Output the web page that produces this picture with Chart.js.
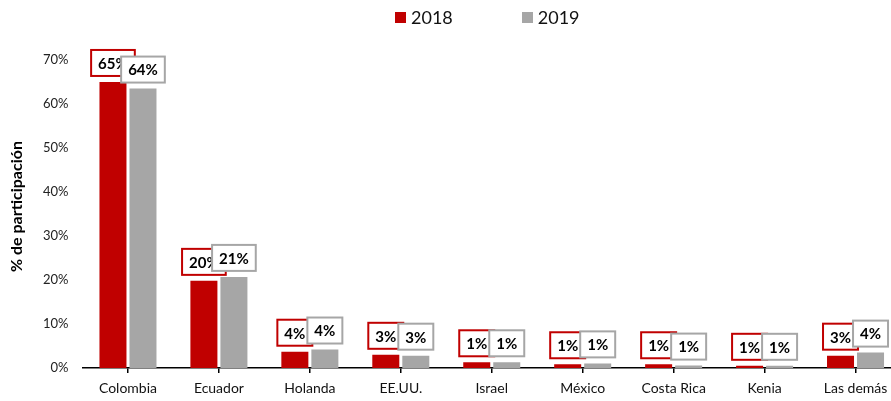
<!DOCTYPE html>
<html>
<head>
<meta charset="utf-8">
<script src="https://cdn.jsdelivr.net/npm/chart.js@4"></script>
<style>
  html, body { margin: 0; padding: 0; background: #fff; overflow: hidden; }
  #wrap { position: relative; width: 901px; height: 401px; }
  #legend { position: absolute; top: 6px; left: 395px; display: flex; font-family: Lato, sans-serif; font-size: 18px; color: #111; }
  #legend .item { display: flex; align-items: center; margin-right: 69px; }
  #legend .sw { width: 11px; height: 11px; margin-right: 5px; }
</style>
</head>
<body>
<div id="wrap">
  <div id="legend"></div>
  <canvas id="chart" width="901" height="401"></canvas>
</div>
<script>
// ──────────────── 数据 ────────────────
const countries = ['Colombia', 'Ecuador', 'Holanda', 'EE.UU.', 'Israel', 'México', 'Costa Rica', 'Kenia', 'Las demás'];
const share2018 = [65.0, 19.8, 3.7, 3.0, 1.3, 0.85, 0.85, 0.5, 2.8];
const share2019 = [63.5, 20.7, 4.2, 2.8, 1.3, 1.05, 0.55, 0.5, 3.5];
const yTicks = [0, 10, 20, 30, 40, 50, 60, 70];

const RED = '#C00000', GRAY = '#A6A6A6';

// ──────────────── 图例 (HTML) ────────────────
const series = [{ label: '2018', color: RED }, { label: '2019', color: GRAY }];
document.getElementById('legend').innerHTML = series
  .map(s => `<div class="item"><span class="sw" style="background:${s.color}"></span>${s.label}</div>`)
  .join('');

// ──────────────── 数值标签框 ────────────────
const boxLabels = {
  id: 'boxLabels',
  afterDatasetsDraw(chart) {
    const ctx = chart.ctx;
    ctx.save();
    ctx.font = 'bold 15px Lato, sans-serif';
    ctx.textAlign = 'center';
    ctx.textBaseline = 'middle';
    chart.data.datasets.forEach((ds, di) => {
      chart.getDatasetMeta(di).data.forEach((bar, i) => {
        const txt = Math.round(ds.data[i]) + '%';
        const w = ctx.measureText(txt).width + 14, h = 26;
        const x = bar.x - w / 2, y = bar.y - 6 - h;
        ctx.fillStyle = '#fff';
        ctx.fillRect(x, y, w, h);
        ctx.lineWidth = 2;
        ctx.strokeStyle = ds.backgroundColor;
        ctx.strokeRect(x, y, w, h);
        ctx.fillStyle = '#000';
        ctx.fillText(txt, bar.x, y + h / 2 + 1);
      });
    });
    ctx.restore();
  }
};

// ──────────────── 图表 ────────────────
new Chart(document.getElementById('chart'), {
  type: 'bar',
  data: {
    labels: countries,
    datasets: [
      { label: '2018', data: share2018, backgroundColor: RED },
      { label: '2019', data: share2019, backgroundColor: GRAY },
    ]
  },
  options: {
    responsive: false,
    animation: false,
    layout: { padding: { top: 45, left: 0, right: 0, bottom: 0 } },
    datasets: { bar: { categoryPercentage: 0.66, barPercentage: 0.9 } },
    plugins: { legend: { display: false }, tooltip: { enabled: false } },
    scales: {
      x: {
        afterFit: s => { s.height = 33; },
        grid: { display: true, drawOnChartArea: false, drawTicks: true, tickLength: 5, offset: false, color: '#000', lineWidth: 1.5 },
        border: { display: true, color: '#000', width: 1.5 },
        ticks: { padding: 7, color: '#111', font: { family: 'Lato', size: 14 } }
      },
      y: {
        min: 0,
        max: 73.4,
        afterBuildTicks: s => { s.ticks = yTicks.map(v => ({ value: v })); },
        afterFit: s => { s.width = 82.5; },
        grid: { display: false, drawTicks: false },
        border: { display: false },
        ticks: { padding: 14, color: '#222', font: { family: 'Lato', size: 13 }, callback: v => v + '%' },
        title: { display: true, text: '% de participación', color: '#000', padding: { top: 7, bottom: 0 }, font: { family: 'Lato', size: 16, weight: 'bold' } }
      }
    }
  },
  plugins: [boxLabels]
});
</script>
</body>
</html>
